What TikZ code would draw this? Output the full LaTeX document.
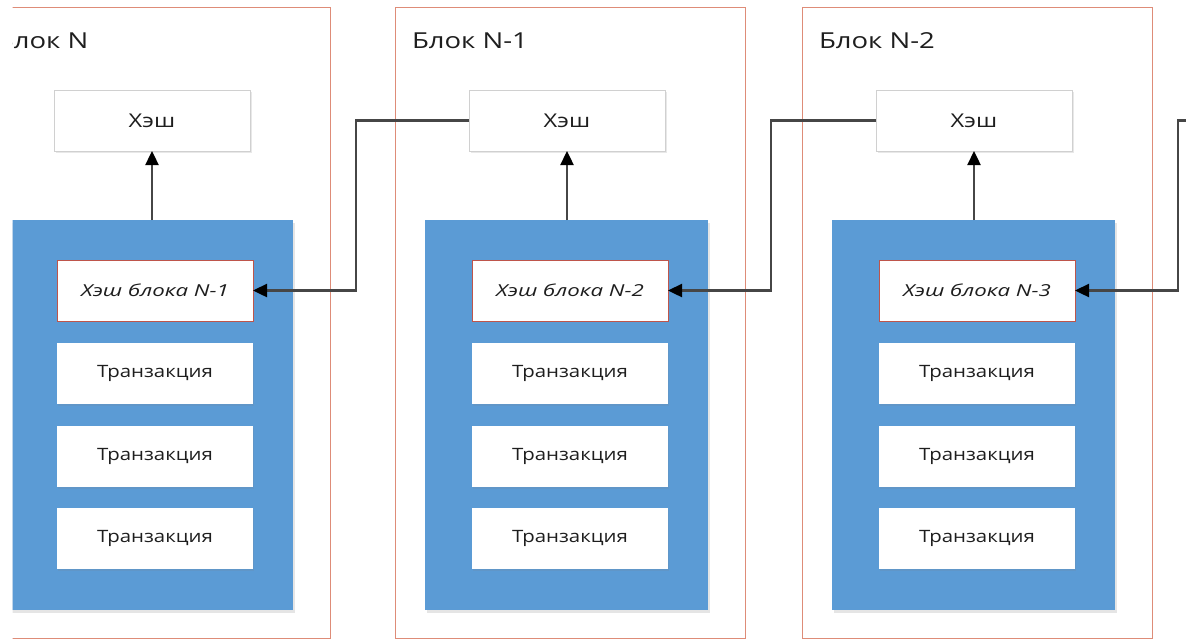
\documentclass[tikz,border=0pt]{standalone}
\usepackage{fontspec}
\setmainfont{Open Sans}
\newfontfamily\titlefont[FakeStretch=1.25]{Open Sans}
\newfontfamily\boxfont[FakeStretch=1.25]{Open Sans}
\newfontfamily\prevfont[FakeStretch=1.35]{Open Sans}
\newfontfamily\txfont[FakeStretch=1.2]{Open Sans}
\usetikzlibrary{arrows.meta,shadows}

\definecolor{framered}{RGB}{222,140,120}
\definecolor{hpred}{RGB}{190,85,75}
\definecolor{blockblue}{RGB}{91,155,213}
\definecolor{hashgray}{RGB}{208,208,208}
\definecolor{ink}{RGB}{30,30,30}
\definecolor{linkgray}{RGB}{70,70,70}

\tikzset{
  every node/.style={inner sep=0pt, outer sep=0pt},
  blockframe/.style={draw=framered, line width=1pt, fill=white,
    minimum width=350pt, minimum height=631pt, anchor=north west},
  blocktitle/.style={anchor=base west, text=ink, font=\titlefont\fontsize{22}{26}\selectfont},
  hashbox/.style={draw=hashgray, line width=0.6pt, fill=white,
    minimum width=196pt, minimum height=61pt, anchor=north west,
    text=ink, font=\boxfont\fontsize{19}{22}\selectfont,
    drop shadow={shadow xshift=1.5pt, shadow yshift=-2pt, opacity=0.18, fill=gray}},
  bodybox/.style={fill=blockblue, minimum width=283pt, minimum height=390pt, anchor=north west,
    drop shadow={shadow xshift=1.5pt, shadow yshift=-2.5pt, opacity=0.2, fill=gray}},
  prevbox/.style={draw=hpred, line width=1pt, fill=white,
    minimum width=196pt, minimum height=61pt, anchor=north west,
    text=ink, font=\prevfont\fontsize{16.5}{19}\selectfont\itshape},
  txbox/.style={fill=white, minimum width=196pt, minimum height=61pt, anchor=north west,
    text=ink, font=\txfont\fontsize{17}{20}\selectfont,
    drop shadow={shadow xshift=1pt, shadow yshift=-1.5pt, opacity=0.15, fill=gray}},
  link/.style={draw=linkgray, line width=2.4pt,
    -{Triangle[length=14pt,width=13pt,color=black]}},
}

\begin{document}
\begin{tikzpicture}[x=1pt, y=-1pt]
  \useasboundingbox (0,0) rectangle (1186,641);
  \fill[white] (0,0) rectangle (1186,641);
  \begin{scope}
    \clip (12.5,0) rectangle (1186,641);

    % three blocks of the chain, newest on the left
    \foreach \i/\o/\lbl/\prv in {1/-20/N/N-1, 2/395/N-1/N-2, 3/802/N-2/N-3}{
      \node[blockframe] (frame\i) at (\o,7) {};
      \node[blocktitle] (title\i) at (\o+17,48) {Блок \lbl};
      \node[hashbox] (hash\i) at (\o+74,90) {Хэш};
      \node[bodybox] (body\i) at (\o+30,220) {};
      \node[prevbox] (prev\i) at (\o+77,260) {Хэш блока \prv};
      \node[txbox] (txa\i) at (\o+77,343) {Транзакция};
      \node[txbox] (txb\i) at (\o+77,426) {Транзакция};
      \node[txbox] (txc\i) at (\o+77,508) {Транзакция};
      \draw[link] (hash\i.south |- body\i.north) -- (hash\i.south);
    }

    % bends of the links between neighbouring blocks
    \coordinate (bend1) at (356,200);
    \coordinate (bend2) at (771,200);
    \coordinate (bend3) at (1178,200);
    \coordinate (in3) at (1192,120.5);

    \draw[link] (hash2.west) -| (bend1) |- (prev1.east);
    \draw[link] (hash3.west) -| (bend2) |- (prev2.east);
    \draw[link] (in3) -| (bend3) |- (prev3.east);
  \end{scope}
\end{tikzpicture}
\end{document}
